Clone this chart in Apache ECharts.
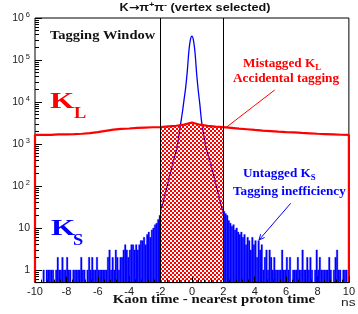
<!DOCTYPE html>
<html><head><meta charset="utf-8">
<script src="https://cdn.jsdelivr.net/npm/echarts@6/dist/echarts.min.js"></script>
<style>html,body{margin:0;padding:0;background:#fff}#c{width:358px;height:314px}</style>
</head><body><div id="c"></div>
<script>
// ---- data ----
const xTicks = [-10, -8, -6, -4, -2, 0, 2, 4, 6, 8, 10];
const yTicks = [1, 10, 100, 1000, 10000, 100000, 1000000];
const windowEdges = [-2, 2];

// K_L (mistagged / accidental) curve, every 0.5 ns
const klX = [-10,-9.5,-9,-8.5,-8,-7.5,-7,-6.5,-6,-5.5,-5,-4.5,-4,-3.5,-3,-2.5,-2,-1.5,-1,-0.5,0,0.5,1,1.5,2,2.5,3,3.5,4,4.5,5,5.5,6,6.5,7,7.5,8,8.5,9,9.5,10];
const klY = [1640,1660,1650,1690,1700,1720,1750,1810,1920,2060,2200,2280,2340,2420,2460,2500,2520,2620,2720,2900,3250,2880,2700,2600,2520,2420,2320,2240,2160,2090,2030,1970,1920,1880,1830,1790,1750,1720,1690,1660,1640];

// K_S peak inside the window, every 0.1 ns
const ksPeakX = [-2,-1.9,-1.8,-1.7,-1.6,-1.5,-1.4,-1.3,-1.2,-1.1,-1,-0.9,-0.8,-0.7,-0.6,-0.5,-0.4,-0.3,-0.2,-0.1,0,0.1,0.2,0.3,0.4,0.5,0.6,0.7,0.8,0.9,1,1.1,1.2,1.3,1.4,1.5,1.6,1.7,1.8,1.9,2];
const ksPeakY = [25,34,47,66,92,130,185,260,370,500,700,1050,1900,3400,6000,11500,22000,52000,155000,300000,370000,290000,145000,47000,19000,9000,3800,2100,1300,800,590,440,330,240,170,120,85,60,42,30,22];

// K_S histogram outside the window (0.1 ns bins)
const binWidth = 0.1;
const ksLeftStart = -10;
const ksLeftCounts = [0,0,0,0,0,1,0,1,1,1, 1,1,0,1,2,1,1,2,1,1, 2,1,1,0,1,1,1,1,1,2, 1,1,0,1,2,1,2,1,1,2, 1,1,1,1,1,1,2,3,1,2, 1,3,2,1,2,2,3,4,3,2, 3,4,4,3,4,3,4,5,5,6, 4,7,8,6,9,10,12,13,16,20];
const ksRightStart = 2;
const ksRightCounts = [25,22,20,15,13,11,12,9,10,8, 7,8,6,7,4,6,5,3,6,4, 5,2,5,3,4,1,2,3,1,3, 2,1,2,1,1,1,1,3,1,1, 2,1,2,0,1,1,1,2,1,1, 3,1,1,2,1,2,1,0,1,3, 1,2,1,1,1,1,1,2,1,0, 1,2,3,1,1,0,1,1,1,0];

const Y_MIN = 0.5, Y_MAX = 1e6;

// ---- build ----
const histData = [];
ksLeftCounts.forEach((c, i) => { if (c > 0) histData.push([ksLeftStart + i * binWidth, ksLeftStart + (i + 1) * binWidth, c]); });
ksRightCounts.forEach((c, i) => { if (c > 0) histData.push([ksRightStart + i * binWidth, ksRightStart + (i + 1) * binWidth, c]); });

const klData = [[klX[0], Y_MIN]].concat(klX.map((x, i) => [x, klY[i]])).concat([[klX[klX.length - 1], Y_MIN]]);
const hatchData = klX.map((x, i) => [x, klY[i]]).filter(p => p[0] >= windowEdges[0] && p[0] <= windowEdges[1]);
const ksPeakData = ksPeakX.map((x, i) => [x, ksPeakY[i]]);

const minorY = [];
for (let k = -1; k <= 5; k++) for (let m = 2; m <= 9; m++) { const v = m * Math.pow(10, k); if (v > Y_MIN && v < Y_MAX) minorY.push(v); }

const pc = document.createElement('canvas'); pc.width = 4; pc.height = 4;
const g = pc.getContext('2d'); g.fillStyle = '#ff0000'; g.fillRect(0, 0, 2, 2); g.fillRect(2, 2, 2, 2);

const serif = 'Liberation Serif', sans = 'Liberation Sans';

function renderHist(params, api) {
  const c = api.value(2);
  const p0 = api.coord([api.value(0), c]);
  const p1 = api.coord([api.value(1), Y_MIN]);
  return { type: 'rect', shape: { x: p0[0], y: p0[1], width: p1[0] - p0[0], height: p1[1] - p0[1] },
    style: { fill: '#0000ff', stroke: '#0000ff', lineWidth: 0.3 } };
}

const chart = echarts.init(document.getElementById('c'));
chart.setOption({
  animation: false,
  grid: { left: 35, right: 4, top: 18, bottom: 31.4, show: true, borderColor: '#000', borderWidth: 1, backgroundColor: 'transparent' },
  xAxis: {
    type: 'value', min: -10, max: 10, interval: 2, z: 10,
    axisLine: { show: true, onZero: false, lineStyle: { color: '#000', width: 1 } },
    axisTick: { inside: true, length: 6, lineStyle: { color: '#000' } },
    minorTick: { show: true, splitNumber: 5, length: 3, lineStyle: { color: '#000' } },
    splitLine: { show: false },
    axisLabel: { customValues: xTicks, color: '#222', fontSize: 11, fontFamily: sans, margin: 4 }
  },
  yAxis: [{
    type: 'log', logBase: 10, min: Y_MIN, max: Y_MAX, z: 10, position: 'left',
    axisLine: { show: false, onZero: false },
    axisTick: { show: true, inside: true, length: 7, customValues: yTicks, lineStyle: { color: '#000' } },
    splitLine: { show: false },
    axisLabel: {
      customValues: yTicks, margin: 5, color: '#222', fontSize: 10.5, fontFamily: sans,
      formatter: v => {
        const l = Math.log10(v), e = Math.round(l);
        if (Math.abs(l - e) > 1e-6) return '';
        if (e === 0) return '1';
        if (e === 1) return '10';
        return '{b|10}{s|' + e + '}';
      },
      rich: {
        b: { fontSize: 10.5, fontFamily: sans, color: '#222', lineHeight: 15 },
        s: { fontSize: 7.5, fontFamily: sans, color: '#222', lineHeight: 8, verticalAlign: 'top', padding: [0, 0, 0, 2] }
      }
    }
  }, {
    type: 'log', logBase: 10, min: Y_MIN, max: Y_MAX, position: 'left', z: 10,
    axisLine: { show: false, onZero: false }, splitLine: { show: false }, axisLabel: { show: false },
    axisTick: { show: true, inside: true, length: 4, customValues: minorY, lineStyle: { color: '#000' } }
  }],
  series: [
    { type: 'line', name: 'KS peak', data: ksPeakData, yAxisIndex: 0, symbol: 'none', smooth: 0.3,
      lineStyle: { color: '#0000ff', width: 1.3 }, z: 2 },
    { type: 'custom', name: 'KS hist', data: histData, yAxisIndex: 0, renderItem: renderHist,
      encode: { x: [0, 1], y: 2 }, z: 2 },
    { type: 'line', name: 'hatch', data: hatchData, yAxisIndex: 0, symbol: 'none',
      lineStyle: { width: 0 }, areaStyle: { color: { image: pc, repeat: 'repeat' }, origin: 'start', opacity: 1 }, z: 3 },
    { type: 'line', name: 'KL', data: klData, yAxisIndex: 0, symbol: 'none',
      lineStyle: { color: '#ff0000', width: 2.2 }, z: 4,
      markLine: { silent: true, symbol: 'none', label: { show: false },
        lineStyle: { color: '#000', width: 1, type: 'solid' },
        data: windowEdges.map(x => ({ xAxis: x })) } }
  ],
  graphic: [
    { type: 'text', x: 195, y: 8, scaleX: 1.15, style: { text: '{t|K}{a|→}{t|π}{s|+}{t|π}{s|-}{t| (vertex selected)}', align: 'center', verticalAlign: 'middle',
      rich: {
        t: { fontSize: 11, fontWeight: 'bold', fontFamily: sans, fill: '#111', lineHeight: 14 },
        a: { fontSize: 11, fontWeight: 'bold', fontFamily: 'DejaVu Sans', fill: '#111', lineHeight: 14 },
        s: { fontSize: 8, fontWeight: 'bold', fontFamily: sans, fill: '#111', lineHeight: 8, verticalAlign: 'top' } } } },
    { type: 'text', x: 50, y: 36, scaleX: 1.16, style: { text: 'Tagging Window', align: 'left', verticalAlign: 'middle',
      fontSize: 12.5, fontWeight: 'bold', fontFamily: serif, fill: '#111' } },
    { type: 'text', x: 50, y: 102, scaleX: 1.3, style: { text: 'K', align: 'left', verticalAlign: 'middle',
      fontSize: 24, fontWeight: 'bold', fontFamily: serif, fill: '#ff0000' } },
    { type: 'text', x: 74, y: 114, scaleX: 1.15, style: { text: 'L', align: 'left', verticalAlign: 'middle',
      fontSize: 16, fontWeight: 'bold', fontFamily: serif, fill: '#ff0000' } },
    { type: 'text', x: 51, y: 229, scaleX: 1.3, style: { text: 'K', align: 'left', verticalAlign: 'middle',
      fontSize: 24, fontWeight: 'bold', fontFamily: serif, fill: '#0000ff' } },
    { type: 'text', x: 73, y: 241, scaleX: 1.15, style: { text: 'S', align: 'left', verticalAlign: 'middle',
      fontSize: 16, fontWeight: 'bold', fontFamily: serif, fill: '#0000ff' } },
    { type: 'text', x: 243, y: 64, scaleX: 1.1, style: { text: '{m|Mistagged K}{u|L}', align: 'left', verticalAlign: 'middle',
      rich: { m: { fontSize: 12, fontWeight: 'bold', fontFamily: serif, fill: '#ff0000', lineHeight: 16 },
              u: { fontSize: 8, fontWeight: 'bold', fontFamily: serif, fill: '#ff0000', lineHeight: 8, verticalAlign: 'bottom' } } } },
    { type: 'text', x: 233, y: 79, scaleX: 1.11, style: { text: 'Accidental tagging', align: 'left', verticalAlign: 'middle',
      fontSize: 12, fontWeight: 'bold', fontFamily: serif, fill: '#ff0000' } },
    { type: 'text', x: 243, y: 174, scaleX: 1.1, style: { text: '{m|Untagged K}{u|S}', align: 'left', verticalAlign: 'middle',
      rich: { m: { fontSize: 12, fontWeight: 'bold', fontFamily: serif, fill: '#0000ff', lineHeight: 16 },
              u: { fontSize: 8, fontWeight: 'bold', fontFamily: serif, fill: '#0000ff', lineHeight: 8, verticalAlign: 'bottom' } } } },
    { type: 'text', x: 233, y: 191.5, scaleX: 1.1, style: { text: 'Tagging inefficiency', align: 'left', verticalAlign: 'middle',
      fontSize: 12, fontWeight: 'bold', fontFamily: serif, fill: '#0000ff' } },
    { type: 'text', x: 214, y: 300, scaleX: 1.14, style: { text: 'Kaon time - nearest proton time', align: 'center', verticalAlign: 'middle',
      fontSize: 13, fontWeight: 'bold', fontFamily: serif, fill: '#111' } },
    { type: 'text', x: 341, y: 303, scaleX: 1.25, style: { text: 'ns', align: 'left', verticalAlign: 'middle',
      fontSize: 11, fontFamily: sans, fill: '#222' } },
    { type: 'line', shape: { x1: 274.7, y1: 90, x2: 226.3, y2: 127.3 }, style: { stroke: '#ff0000', lineWidth: 1 }, z: 20 },
    { type: 'line', shape: { x1: 290.7, y1: 203.3, x2: 259, y2: 240 }, style: { stroke: '#0000ff', lineWidth: 1 }, z: 20 },
    { type: 'polyline', shape: { points: [[264.5, 237.5], [259, 240], [260.6, 234.2]] }, style: { stroke: '#0000ff', lineWidth: 1, fill: null }, z: 20 }
  ]
});
</script></body></html>
